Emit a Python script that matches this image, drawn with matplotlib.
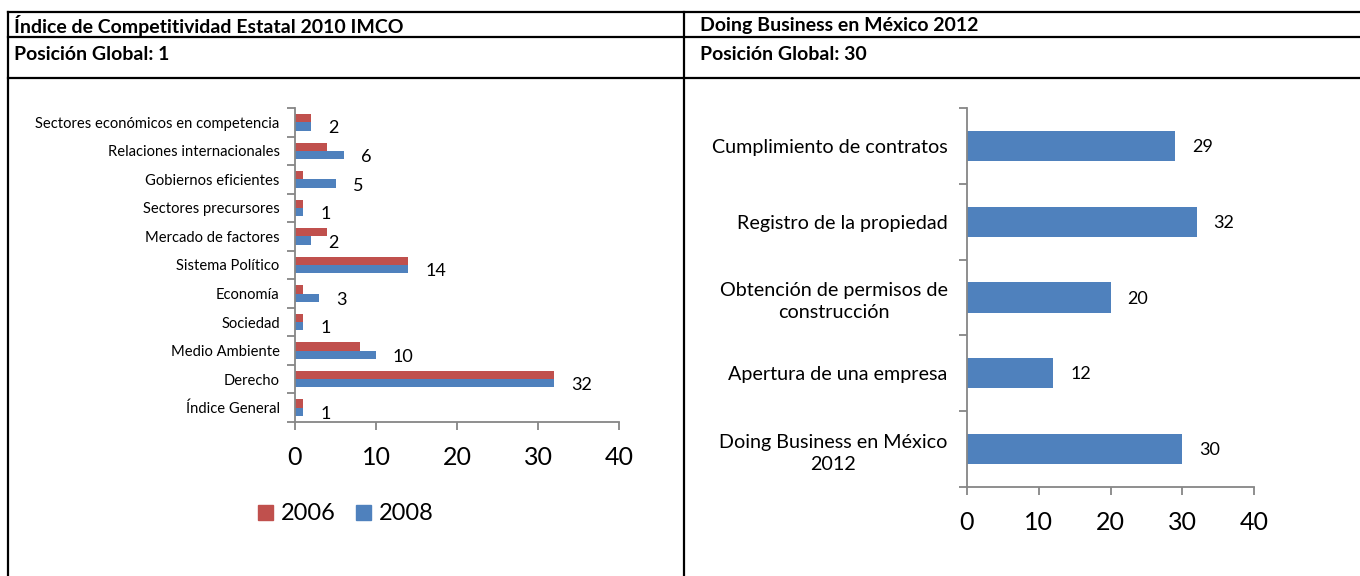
import matplotlib
matplotlib.use("Agg")
import matplotlib.pyplot as plt
from matplotlib.lines import Line2D
from matplotlib.patches import Patch

plt.rcParams["font.family"] = ["Lato", "DejaVu Sans"]

W, H = 1360, 576

# ---- data ----
imco_categories = [
    "Índice General",
    "Derecho",
    "Medio Ambiente",
    "Sociedad",
    "Economía",
    "Sistema Político",
    "Mercado de factores",
    "Sectores precursores",
    "Gobiernos eficientes",
    "Relaciones internacionales",
    "Sectores económicos en competencia",
]
imco_2006 = [1, 32, 8, 1, 1, 14, 4, 1, 1, 4, 2]
imco_2008 = [1, 32, 10, 1, 3, 14, 2, 1, 5, 6, 2]

db_categories = [
    "Doing Business en México\n2012",
    "Apertura de una empresa",
    "Obtención de permisos de\nconstrucción",
    "Registro de la propiedad",
    "Cumplimiento de contratos",
]
db_values = [30, 12, 20, 32, 29]

x_ticks = [0, 10, 20, 30, 40]

RED = "#C0504D"
BLUE = "#4F81BD"
AXIS_GRAY = "#868686"


def px_axes(fig, x0, x1, ytop, ybot):
    return fig.add_axes([x0 / W, 1 - ybot / H, (x1 - x0) / W, (ybot - ytop) / H])


def style_axis(ax, n, tick_size):
    ax.set_xlim(0, 40)
    ax.set_ylim(-0.5, n - 0.5)
    for s in ["top", "right"]:
        ax.spines[s].set_visible(False)
    for s in ["left", "bottom"]:
        ax.spines[s].set_color(AXIS_GRAY)
        ax.spines[s].set_linewidth(1.3)
    ax.set_xticks(x_ticks)
    ax.set_xticklabels([str(t) for t in x_ticks])
    ax.tick_params(axis="x", colors=AXIS_GRAY, length=6, width=1.3,
                   labelsize=tick_size, labelcolor="black", pad=11)
    # category ticks at boundaries
    ax.set_yticks([i - 0.5 for i in range(n + 1)], minor=True)
    ax.tick_params(axis="y", which="minor", colors=AXIS_GRAY, length=6, width=1.3)
    ax.tick_params(axis="y", which="major", length=0, labelcolor="black")


fig = plt.figure(figsize=(W / 100, H / 100), dpi=100)

# ---- table borders ----
def hline(y, x0, x1):
    fig.add_artist(Line2D([x0 / W, x1 / W], [1 - y / H, 1 - y / H],
                          transform=fig.transFigure, color="black", lw=1.6))


def vline(x, y0, y1):
    fig.add_artist(Line2D([x / W, x / W], [1 - y0 / H, 1 - y1 / H],
                          transform=fig.transFigure, color="black", lw=1.6))


hline(12, 8, W)
hline(37, 8, W)
hline(78, 8, W)
vline(8, 12, H)
vline(684, 12, H)

header_kw = dict(fontsize=14, fontweight="bold", va="center", ha="left")
fig.text(14 / W, 1 - 25 / H, "Índice de Competitividad Estatal 2010 IMCO", **header_kw)
fig.text(14 / W, 1 - 55 / H, "Posición Global: 1", **header_kw)
fig.text(700 / W, 1 - 25 / H, "Doing Business en México 2012", **header_kw)
fig.text(700 / W, 1 - 55 / H, "Posición Global: 30", **header_kw)

# ---- left chart ----
ax1 = px_axes(fig, 295, 619, 108, 422)
n1 = len(imco_categories)
ypos = list(range(n1))
bh = 0.29
ax1.barh([y + bh / 2 for y in ypos], imco_2006, height=bh, color=RED, label="2006")
ax1.barh([y - bh / 2 for y in ypos], imco_2008, height=bh, color=BLUE, label="2008")
style_axis(ax1, n1, 18)
ax1.set_yticks(ypos)
ax1.set_yticklabels(imco_categories, fontsize=10.6)
ax1.tick_params(axis="y", which="major", pad=11)
for y, v in zip(ypos, imco_2008):
    ax1.annotate(str(v), (v, y - bh / 2), xytext=(17, -2), textcoords="offset pixels",
                 ha="left", va="center", fontsize=13)

handles = [Patch(color=RED, label="2006"), Patch(color=BLUE, label="2008")]
fig.legend(handles=handles, loc="center", bbox_to_anchor=(346 / W, 1 - 514 / H),
           ncol=2, frameon=False, fontsize=17, handlelength=0.62, handleheight=0.62,
           handletextpad=0.35, columnspacing=0.85)

# ---- right chart ----
ax2 = px_axes(fig, 967, 1254, 108, 487)
n2 = len(db_categories)
ypos2 = list(range(n2))
ax2.barh(ypos2, db_values, height=0.40, color=BLUE)
style_axis(ax2, n2, 18)
ax2.set_yticks(ypos2)
ax2.set_yticklabels(db_categories, fontsize=14.2, multialignment="center",
                    linespacing=1.38)
ax2.tick_params(axis="y", which="major", pad=14)
for y, v in zip(ypos2, db_values):
    ax2.annotate(str(v), (v, y), xytext=(17, -1), textcoords="offset pixels",
                 ha="left", va="center", fontsize=13)

fig.savefig("out.png", dpi=100)
